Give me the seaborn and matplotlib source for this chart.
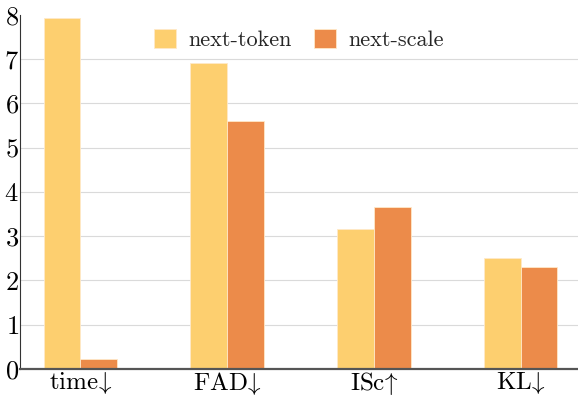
import pandas as pd
import numpy as np
import matplotlib
matplotlib.use("Agg")
import matplotlib.pyplot as plt
import seaborn as sns
from matplotlib.ticker import MultipleLocator

# data
metrics = [r"$\mathrm{time}\!\downarrow$", r"$\mathrm{FAD}\!\downarrow$",
           r"$\mathrm{ISc}\!\uparrow$", r"$\mathrm{KL}\!\downarrow$"]
next_token = [7.92, 6.9, 3.15, 2.5]
next_scale = [0.23, 5.6, 3.66, 2.31]

df = pd.DataFrame({
    "metric": metrics * 2,
    "value": next_token + next_scale,
    "method": ["next-token"] * 4 + ["next-scale"] * 4,
})

sns.set_style("white")
plt.rcParams["font.family"] = ["cmr10", "DejaVu Serif"]
plt.rcParams["mathtext.fontset"] = "cm"
plt.rcParams["axes.unicode_minus"] = False
plt.rcParams["axes.formatter.use_mathtext"] = True

fig, ax = plt.subplots(figsize=(5.78, 3.98), dpi=100)
fig.subplots_adjust(left=0.035, right=1.0, bottom=0.073, top=0.963)

sns.barplot(data=df, x="metric", y="value", hue="method", ax=ax,
            palette=["#FDCF6F", "#EC8B4A"], width=0.5,
            edgecolor="#FFE9C8", linewidth=0.6, saturation=1)

ax.set_xlim(-0.41, 3.39)
ax.set_ylim(0, 8)
ax.set_xlabel("")
ax.set_ylabel("")
ax.yaxis.set_major_locator(MultipleLocator(1))
ax.yaxis.set_minor_locator(MultipleLocator(0.2))
ax.xaxis.set_minor_locator(MultipleLocator(0.2))
ax.grid(axis="y", color="#DADADA", linewidth=0.8)
ax.set_axisbelow(True)

for s in ["top", "right"]:
    ax.spines[s].set_visible(False)
ax.spines["left"].set_color("#333333")
ax.spines["bottom"].set_color("#555555")
ax.spines["bottom"].set_linewidth(1.6)

ax.tick_params(axis="both", which="major", direction="in", length=4, width=0.8,
               colors="#222222", labelsize=19, labelcolor="black")
ax.tick_params(axis="x", labelsize=18)
ax.tick_params(axis="both", which="minor", direction="in", length=2.5, width=0.7,
               colors="#222222")
ax.tick_params(axis="x", pad=1)
ax.tick_params(axis="y", pad=1)

ax.legend(loc="upper center", bbox_to_anchor=(0.5, 1.015), ncol=2, frameon=False,
          fontsize=16, handlelength=1.0, handleheight=0.9, columnspacing=1.0,
          handletextpad=0.55)

fig.canvas.draw()
for line, val in zip(ax.yaxis.get_gridlines(), ax.get_yticks()):
    if val >= 8:
        line.set_visible(False)

fig.savefig("out.png", dpi=100)
